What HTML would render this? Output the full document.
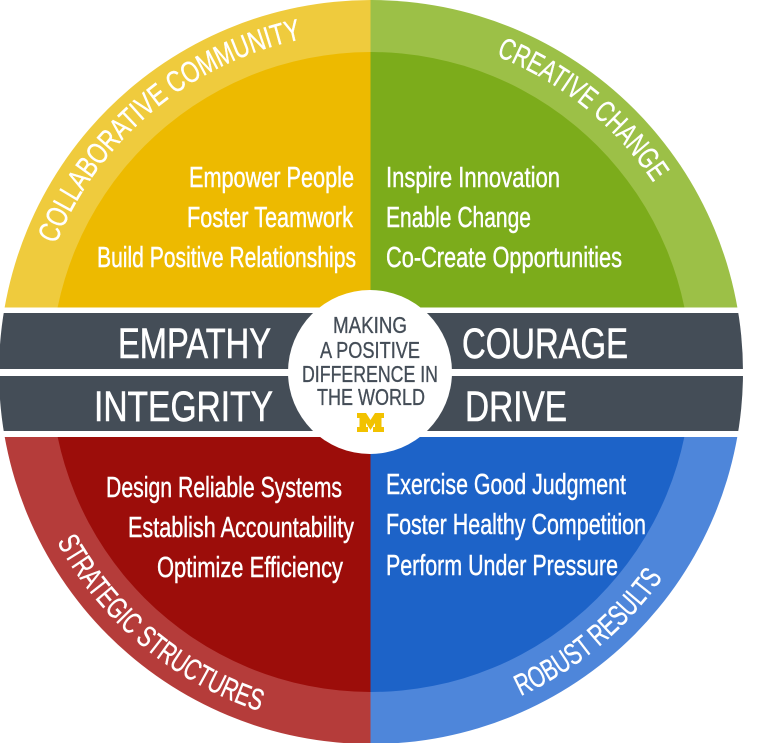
<!DOCTYPE html>
<html><head><meta charset="utf-8"><style>
html,body{margin:0;padding:0;background:#fff}
svg{display:block}
text{font-family:"Liberation Sans",sans-serif;fill:#fff}
.s{font-size:29px;stroke:#fff;stroke-width:.45px}
.b{font-size:43px;stroke:#fff;stroke-width:.6px}
.c{font-size:23.5px;fill:#444d57;stroke:#444d57;stroke-width:.35px}
.a{font-size:30px;stroke:#fff;stroke-width:.4px}
</style></head><body>
<svg width="758" height="743" viewBox="0 0 758 743" xmlns="http://www.w3.org/2000/svg">
<defs>
<clipPath id="top"><rect x="0" y="0" width="758" height="307.5"/></clipPath>
<clipPath id="bot"><rect x="0" y="437" width="758" height="306"/></clipPath>
<clipPath id="disc"><circle cx="371" cy="372" r="372"/></clipPath>
<path id="arcT" d="M31,372 A340,340 0 0 1 711,372"/>
<path id="arcB" d="M14,372 A357,357 0 0 0 728,372"/>
</defs>
<g clip-path="url(#top)">
<path d="M370.5,372 L370.5,0 A372,372 0 0 0 -1,372 Z" fill="#efcb3d"/>
<path d="M370.5,372 L370.5,0 A372,372 0 0 1 743,372 Z" fill="#9cc047"/>
<path d="M370.5,372 L370.5,52 A320,320 0 0 0 51,372 Z" fill="#edba00"/>
<path d="M370.5,372 L370.5,52 A320,320 0 0 1 691,372 Z" fill="#7cac1b"/>
</g>
<g clip-path="url(#bot)">
<path d="M370.5,372 L370.5,744 A372,372 0 0 1 -1,372 Z" fill="#b53c3a"/>
<path d="M370.5,372 L370.5,744 A372,372 0 0 0 743,372 Z" fill="#4e86da"/>
<path d="M370.5,372 L370.5,692 A320,320 0 0 1 51,372 Z" fill="#9c0d0a"/>
<path d="M370.5,372 L370.5,692 A320,320 0 0 0 691,372 Z" fill="#1d63c8"/>
</g>
<g clip-path="url(#disc)" fill="#444d57">
<rect x="0" y="313" width="758" height="56"/>
<rect x="0" y="376" width="758" height="55"/>
</g>
<circle cx="370" cy="372" r="82" fill="#fff"/>
<text class="a"><textPath href="#arcT" startOffset="131" textLength="333" lengthAdjust="spacingAndGlyphs">COLLABORATIVE COMMUNITY</textPath></text>
<text class="a"><textPath href="#arcT" startOffset="662" textLength="205" lengthAdjust="spacingAndGlyphs">CREATIVE CHANGE</textPath></text>
<text class="a"><textPath href="#arcB" startOffset="177" textLength="270" lengthAdjust="spacingAndGlyphs">STRATEGIC STRUCTURES</textPath></text>
<text class="a"><textPath href="#arcB" startOffset="715" textLength="187" lengthAdjust="spacingAndGlyphs">ROBUST RESULTS</textPath></text>
<text class="s" x="189" y="187" textLength="165" lengthAdjust="spacingAndGlyphs">Empower People</text>
<text class="s" x="187" y="227" textLength="166" lengthAdjust="spacingAndGlyphs">Foster Teamwork</text>
<text class="s" x="97" y="267" textLength="259" lengthAdjust="spacingAndGlyphs">Build Positive Relationships</text>
<text class="s" x="386" y="187" textLength="174" lengthAdjust="spacingAndGlyphs">Inspire Innovation</text>
<text class="s" x="386" y="227" textLength="145" lengthAdjust="spacingAndGlyphs">Enable Change</text>
<text class="s" x="386" y="267" textLength="236" lengthAdjust="spacingAndGlyphs">Co-Create Opportunities</text>
<text class="s" x="106" y="497" textLength="236" lengthAdjust="spacingAndGlyphs">Design Reliable Systems</text>
<text class="s" x="128" y="537" textLength="226" lengthAdjust="spacingAndGlyphs">Establish Accountability</text>
<text class="s" x="157" y="577" textLength="186" lengthAdjust="spacingAndGlyphs">Optimize Efficiency</text>
<text class="s" x="386" y="494" textLength="240" lengthAdjust="spacingAndGlyphs">Exercise Good Judgment</text>
<text class="s" x="386" y="534" textLength="260" lengthAdjust="spacingAndGlyphs">Foster Healthy Competition</text>
<text class="s" x="386" y="575" textLength="232" lengthAdjust="spacingAndGlyphs">Perform Under Pressure</text>
<text class="b" x="118" y="358" textLength="153" lengthAdjust="spacingAndGlyphs">EMPATHY</text>
<text class="b" x="462" y="358" textLength="166" lengthAdjust="spacingAndGlyphs">COURAGE</text>
<text class="b" x="94" y="421" textLength="179" lengthAdjust="spacingAndGlyphs">INTEGRITY</text>
<text class="b" x="465" y="421" textLength="102" lengthAdjust="spacingAndGlyphs">DRIVE</text>
<text class="c" x="333" y="333" textLength="74" lengthAdjust="spacingAndGlyphs">MAKING</text>
<text class="c" x="320" y="358" textLength="100" lengthAdjust="spacingAndGlyphs">A POSITIVE</text>
<text class="c" x="302" y="382" textLength="136" lengthAdjust="spacingAndGlyphs">DIFFERENCE IN</text>
<text class="c" x="317" y="405" textLength="108" lengthAdjust="spacingAndGlyphs">THE WORLD</text>
<path d="M357,413 H366 L370.5,420 L375,413 H384 V418 H381.5 V427 H384 V432 H373 V427 H375 V423 L370.5,430 L366,423 V427 H368 V432 H357 V427 H359.5 V418 H357 Z" fill="#f2c200"/>
</svg>
</body></html>
